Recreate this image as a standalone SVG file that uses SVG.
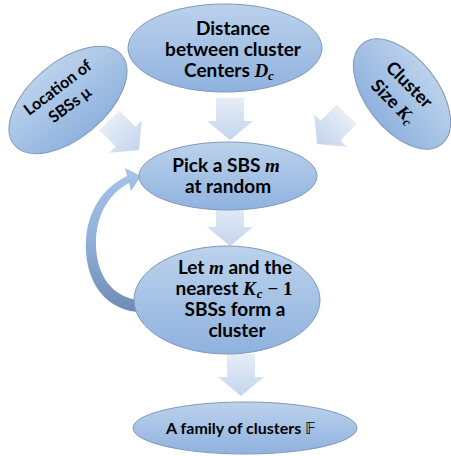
<svg xmlns="http://www.w3.org/2000/svg" width="451" height="456" viewBox="0 0 451 456">
<defs>
<linearGradient id="eg" x1="0" y1="0" x2="0" y2="1">
<stop offset="0" stop-color="#bcd2ec"/>
<stop offset="1" stop-color="#8fb2de"/>
</linearGradient>
<linearGradient id="ag" x1="0" y1="0" x2="0" y2="1">
<stop offset="0" stop-color="#e6edf7"/>
<stop offset="1" stop-color="#c3d5ec"/>
</linearGradient>
<linearGradient id="cg" x1="0" y1="0" x2="0" y2="1">
<stop offset="0" stop-color="#a6c3e8"/>
<stop offset="0.5" stop-color="#92afd8"/>
<stop offset="1" stop-color="#6d8bb5"/>
</linearGradient>
<path id="arr" d="M0,0 L-23,-19 L-14,-19 L-14,-42 L14,-42 L14,-19 L23,-19 Z"/>
</defs>
<style>
.el{fill:url(#eg);stroke:#8099bb;stroke-width:1}
.t{font-family:Lato,"Open Sans",sans-serif;font-weight:bold;font-size:19px;fill:#000;text-anchor:middle}
.m{font-family:"Liberation Serif",serif;font-style:italic;font-weight:bold}
.ar{fill:url(#ag)}
</style>
<rect width="451" height="456" fill="#fff"/>
<g id="connectors">
<use href="#arr" class="ar" transform="translate(230,140)"/>
<use href="#arr" class="ar" transform="translate(139,150) rotate(-45)"/>
<use href="#arr" class="ar" transform="translate(317,144) rotate(45)"/>
<use href="#arr" class="ar" transform="translate(230,246)"/>
<use href="#arr" class="ar" transform="translate(241,396)"/>
<path fill="url(#cg)" d="M137,312 C100,308 84,275 86,240 C88,210 103,188 127,176 L125,168 L141,176 L131,191 L129,183 C110,193 97,213 96,240 C95,270 108,295 137,300 Z"/>
</g>
<g id="n-location">
<ellipse class="el" cx="68" cy="100" rx="70" ry="38" transform="rotate(-40 68 100)"/>
<text class="t" style="font-size:16px" transform="translate(61,92) rotate(-37)">Location of</text>
<text class="t" style="font-size:16px" transform="translate(73,109) rotate(-37)">SBSs μ</text>
</g>
<g id="n-distance">
<ellipse class="el" cx="225" cy="48" rx="97" ry="44"/>
<text class="t" x="233" y="35">Distance</text>
<text class="t" x="233" y="56">between cluster</text>
<text class="t" x="229" y="77">Centers <tspan class="m">D</tspan><tspan class="m" font-size="13" dy="3">c</tspan></text>
</g>
<g id="n-size">
<ellipse class="el" cx="402" cy="94" rx="64" ry="36" transform="rotate(52 402 94)"/>
<text class="t" style="font-size:18px" transform="translate(405,89) rotate(45)">Cluster</text>
<text class="t" style="font-size:18px" transform="translate(389,106) rotate(45)">Size <tspan class="m">K</tspan><tspan class="m" font-size="13" dy="3">c</tspan></text>
</g>
<g id="n-pick">
<ellipse class="el" cx="228" cy="176" rx="89" ry="34"/>
<text class="t" x="226" y="172">Pick a SBS <tspan class="m">m</tspan></text>
<text class="t" x="228" y="193">at random</text>
</g>
<g id="n-let">
<ellipse class="el" cx="227" cy="300" rx="93" ry="54"/>
<text class="t" x="235" y="274">Let <tspan class="m">m</tspan> and the</text>
<text class="t" x="234" y="295">nearest <tspan class="m">K</tspan><tspan class="m" font-size="13" dx="1" dy="3">c</tspan><tspan dx="5" dy="-3" font-family="Liberation Serif">− 1</tspan></text>
<text class="t" x="235" y="316">SBSs form a</text>
<text class="t" x="237" y="337">cluster</text>
</g>
<g id="n-family">
<ellipse class="el" cx="245" cy="428" rx="112" ry="26"/>
<text class="t" style="font-size:16px" x="241" y="434">A family of clusters <tspan font-family="DejaVu Sans" font-weight="normal">𝔽</tspan></text>
</g>
</svg>
